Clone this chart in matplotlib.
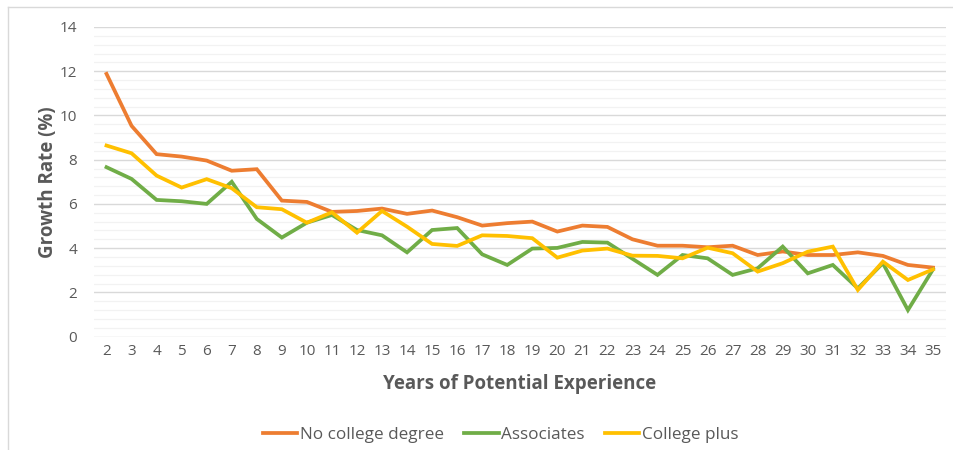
import matplotlib
matplotlib.use("Agg")
import matplotlib.pyplot as plt
from matplotlib.lines import Line2D
from matplotlib.ticker import MultipleLocator

years = list(range(2, 36))
no_college = [11.88, 9.53, 8.25, 8.14, 7.96, 7.50, 7.57, 6.15, 6.09, 5.64,
              5.68, 5.79, 5.55, 5.70, 5.40, 5.02, 5.13, 5.20, 4.75, 5.02,
              4.96, 4.40, 4.11, 4.11, 4.04, 4.11, 3.69, 3.85, 3.69, 3.69,
              3.81, 3.65, 3.24, 3.12]
associates = [7.66, 7.13, 6.18, 6.12, 6.00, 7.00, 5.32, 4.48, 5.15, 5.50,
              4.82, 4.58, 3.81, 4.82, 4.91, 3.72, 3.24, 3.98, 4.01, 4.28,
              4.25, 3.52, 2.79, 3.69, 3.54, 2.79, 3.09, 4.07, 2.86, 3.24,
              2.18, 3.32, 1.20, 3.04]
college_plus = [8.64, 8.29, 7.28, 6.74, 7.12, 6.71, 5.85, 5.76, 5.15, 5.62,
                4.70, 5.68, 4.97, 4.19, 4.10, 4.58, 4.55, 4.45, 3.57, 3.89,
                3.98, 3.66, 3.65, 3.54, 4.02, 3.77, 2.94, 3.32, 3.84, 4.07,
                2.11, 3.39, 2.56, 3.04]

series = [("No college degree", no_college, "#ED7D31"),
          ("Associates", associates, "#70AD47"),
          ("College plus", college_plus, "#FFC000")]

plt.rcParams["font.family"] = ["Open Sans", "DejaVu Sans"]
text_color = "#595959"

fig = plt.figure(figsize=(9.54, 4.5), dpi=100)
ax = fig.add_axes([94 / 954, 1 - 336.6 / 450, (945.5 - 94) / 954, (336.6 - 27) / 450])

pos = list(range(len(years)))
for name, vals, color in series:
    ax.plot(pos, vals, color=color, lw=2.7, label=name, solid_joinstyle="miter", zorder=3)

ax.set_xlim(-0.5, len(years) - 0.5)
ax.set_ylim(0, 14)
ax.set_xticks(pos)
ax.set_xticklabels([str(y) for y in years])
ax.yaxis.set_major_locator(MultipleLocator(2))
ax.yaxis.set_minor_locator(MultipleLocator(0.4))
ax.grid(which="major", axis="y", color="#D9D9D9", lw=1.0, zorder=0)
ax.grid(which="minor", axis="y", color="#F2F2F2", lw=0.9, zorder=0)
ax.grid(False, axis="x")
for s in ax.spines.values():
    s.set_visible(False)
ax.tick_params(which="both", length=0, colors=text_color, labelsize=11)
ax.tick_params(axis="x", pad=5)
ax.tick_params(axis="y", pad=12)

ax.set_xlabel("Years of Potential Experience", fontsize=13.5, fontweight="bold",
              color=text_color, labelpad=11)
ax.set_ylabel("Growth Rate (%)", fontsize=13.5, fontweight="bold",
              color=text_color, labelpad=1)

handles = [Line2D([], [], color=c, lw=2.7) for _, _, c in series]
fig.legend(handles, [n for n, _, _ in series], loc="center",
           bbox_to_anchor=(0.525, 1 - 435 / 450), ncol=3, frameon=False,
           fontsize=12.3, handlelength=2.0, handletextpad=0.15, columnspacing=1.2,
           labelcolor=text_color)

# light outer frame along the top and left edges
fig.add_artist(Line2D([8.5 / 954, 1], [1 - 7 / 450, 1 - 7 / 450],
                      transform=fig.transFigure, color="#D9D9D9", lw=1))
fig.add_artist(Line2D([8.5 / 954, 8.5 / 954], [0, 1 - 7 / 450],
                      transform=fig.transFigure, color="#D9D9D9", lw=1))

fig.savefig("out.png", dpi=100)
